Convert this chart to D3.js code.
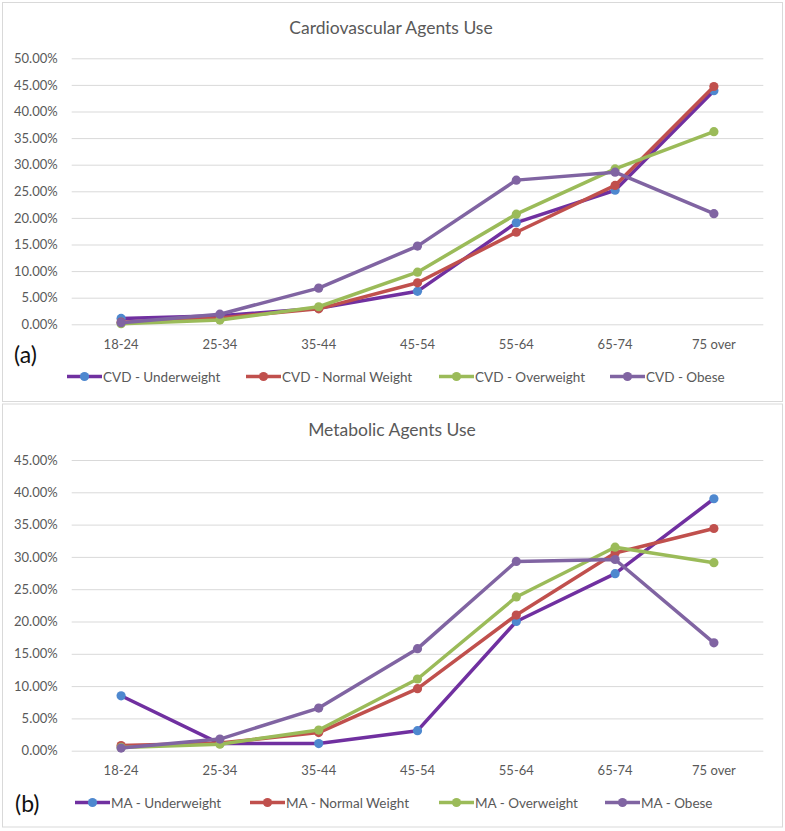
<!DOCTYPE html>
<html><head><meta charset="utf-8">
<script src="https://cdn.jsdelivr.net/npm/d3@7"></script>
<style>
html,body{margin:0;padding:0;background:#fff;}
svg text{font-family:Lato,"Open Sans",sans-serif;}
</style></head>
<body>
<svg id="c" width="785" height="831"></svg>
<script>
const categories = ["18-24","25-34","35-44","45-54","55-64","65-74","75 over"];

// Cardiovascular agents use (%)
const cvdUnderweight = [1.1, 1.6, 3.0, 6.2, 19.1, 25.2, 43.9];
const cvdNormal      = [0.4, 1.2, 2.9, 7.8, 17.3, 26.1, 44.7];
const cvdOverweight  = [0.1, 0.8, 3.3, 9.8, 20.7, 29.2, 36.2];
const cvdObese       = [0.3, 1.9, 6.8, 14.7, 27.1, 28.6, 20.8];

// Metabolic agents use (%)
const maUnderweight = [8.5, 1.1, 1.1, 3.1, 20.0, 27.4, 39.0];
const maNormal      = [0.8, 1.2, 2.8, 9.6, 21.0, 30.6, 34.4];
const maOverweight  = [0.5, 1.0, 3.2, 11.1, 23.8, 31.5, 29.1];
const maObese       = [0.4, 1.8, 6.6, 15.8, 29.3, 29.6, 16.7];

const cvdTicks = [0,5,10,15,20,25,30,35,40,45,50];
const maTicks  = [0,5,10,15,20,25,30,35,40,45];

const seriesStyle = [
  {line:"#7030A0", marker:"#4E88CF"},
  {line:"#C0504D", marker:"#C0504D"},
  {line:"#9BBB59", marker:"#9BBB59"},
  {line:"#8064A2", marker:"#8064A2"}
];

const svg = d3.select("#c");
const TXT = "#595959";

function panel(cfg){
  const g = svg.append("g");
  g.append("rect").attr("x",cfg.px).attr("y",cfg.py).attr("width",cfg.pw).attr("height",cfg.ph)
    .attr("fill","#fff").attr("stroke","#D9D9D9").attr("stroke-width",1);
  g.append("text").attr("x",cfg.titleX).attr("y",cfg.titleY).attr("text-anchor","middle")
    .attr("dominant-baseline","central").attr("fill",TXT).style("font-size","17.5px").text(cfg.title);

  const x = d3.scaleBand().domain(categories).range([71.7,763.3]);
  const y = d3.scaleLinear().domain([0,d3.max(cfg.ticks)]).range([cfg.y0,cfg.y1]);

  const ya = d3.axisLeft(y).tickValues(cfg.ticks).tickSize(-(763.3-71.7)).tickPadding(14)
    .tickFormat(d=>d.toFixed(2)+"%");
  const yg = g.append("g").attr("transform","translate(71.7,0)").call(ya);
  yg.select(".domain").remove();
  yg.selectAll("line").attr("stroke","#D9D9D9").attr("stroke-width",1);
  yg.selectAll("text").attr("fill",TXT).style("font-size","13px").style("font-family","Lato,'Open Sans',sans-serif");

  const xa = d3.axisBottom(x).tickSize(0).tickPadding(0);
  const xg = g.append("g").attr("transform",`translate(0,${cfg.xLabY})`).call(xa);
  xg.select(".domain").remove();
  xg.selectAll("text").attr("fill",TXT).attr("dy","0.35em").attr("y",0).style("font-size","13px").style("font-family","Lato,'Open Sans',sans-serif");

  const line = d3.line().x((d,i)=>x(categories[i])+x.bandwidth()/2).y(d=>y(d));
  cfg.series.forEach((s,k)=>{
    const st = seriesStyle[k];
    g.append("path").datum(s.values).attr("d",line).attr("fill","none")
      .attr("stroke",st.line).attr("stroke-width",3.5).attr("stroke-linejoin","round").attr("stroke-linecap","round");
    g.selectAll(null).data(s.values).enter().append("circle")
      .attr("cx",(d,i)=>x(categories[i])+x.bandwidth()/2).attr("cy",d=>y(d)).attr("r",4.6).attr("fill",st.marker);
  });

  g.append("text").attr("x",cfg.tagX).attr("y",cfg.tagY).attr("dominant-baseline","central")
    .attr("fill","#111").style("font-size","23px").text(cfg.tag);

  cfg.series.forEach((s,k)=>{
    const st = seriesStyle[k];
    const lx = cfg.legendX[k], ly = cfg.legendY;
    g.append("line").attr("x1",lx).attr("x2",lx+35).attr("y1",ly).attr("y2",ly)
      .attr("stroke",st.line).attr("stroke-width",3.5);
    g.append("circle").attr("cx",lx+17.5).attr("cy",ly).attr("r",4.6).attr("fill",st.marker);
    g.append("text").attr("x",lx+36).attr("y",ly).attr("dominant-baseline","central")
      .attr("fill",TXT).style("font-size","13.5px").text(s.name);
  });
}

panel({
  px:2.5, py:2.5, pw:780, ph:399, title:"Cardiovascular Agents Use", titleX:391, titleY:27.5,
  ticks:cvdTicks, y0:324.3, y1:58.3, xLabY:344.5, tag:"(a)", tagX:14, tagY:354,
  legendX:[67,246,439,610], legendY:376.5,
  series:[
    {name:"CVD - Underweight", values:cvdUnderweight},
    {name:"CVD - Normal Weight", values:cvdNormal},
    {name:"CVD - Overweight", values:cvdOverweight},
    {name:"CVD - Obese", values:cvdObese}
  ]
});

panel({
  px:2.5, py:404, pw:780, ph:423, title:"Metabolic Agents Use", titleX:392, titleY:429,
  ticks:maTicks, y0:750.7, y1:460, xLabY:770.5, tag:"(b)", tagX:15, tagY:802.5,
  legendX:[75,250,439,605], legendY:802.5,
  series:[
    {name:"MA - Underweight", values:maUnderweight},
    {name:"MA - Normal Weight", values:maNormal},
    {name:"MA - Overweight", values:maOverweight},
    {name:"MA - Obese", values:maObese}
  ]
});
</script>
</body></html>
